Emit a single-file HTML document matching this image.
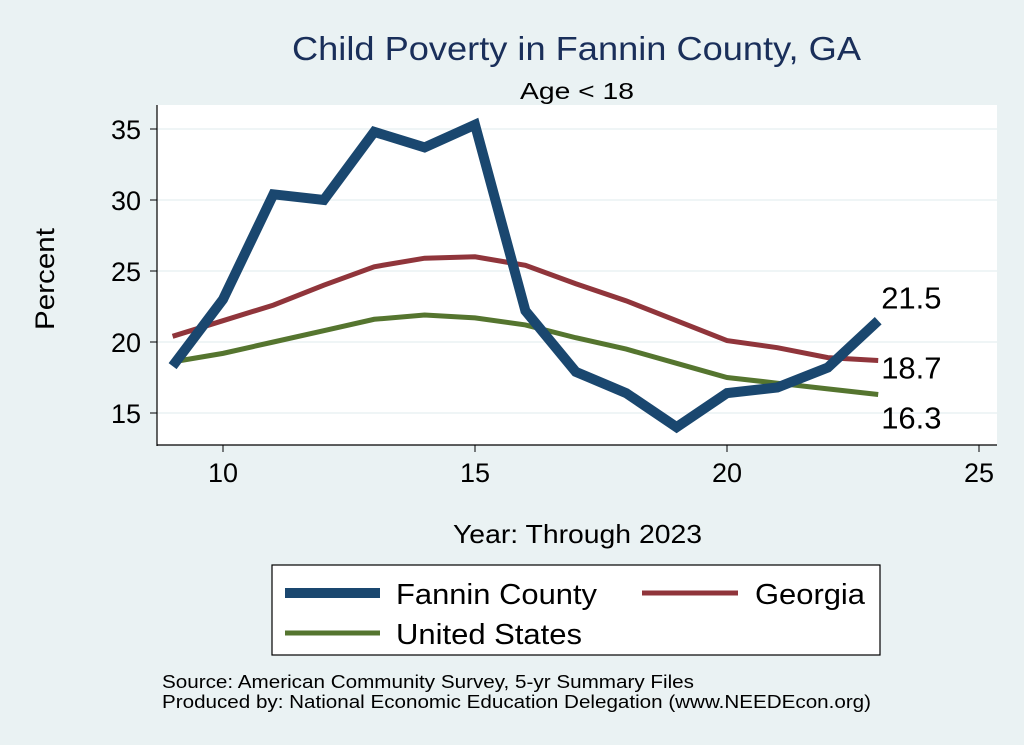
<!DOCTYPE html>
<html><head><meta charset="utf-8"><style>
body{margin:0;background:#eaf2f3;}
svg{display:block;font-family:"Liberation Sans",Arial,sans-serif;}
</style></head><body>
<svg id="chart" width="1024" height="745" viewBox="0 0 1024 745">
<rect x="0" y="0" width="1024" height="745" fill="#eaf2f3"/>
<text x="292" y="60" font-size="33" fill="#1a2f5a" textLength="569" lengthAdjust="spacingAndGlyphs">Child Poverty in Fannin County, GA</text>
<text x="520" y="99" font-size="23" fill="#000" textLength="114" lengthAdjust="spacingAndGlyphs">Age &lt; 18</text>
<rect x="157" y="105" width="840" height="340" fill="#fff"/>
<g id="grid"></g>
<line x1="157" y1="105" x2="157" y2="446" stroke="#000" stroke-width="1.2"/>
<line x1="157" y1="445" x2="997" y2="445" stroke="#000" stroke-width="1.2"/>
<g id="ticks"></g>
<g id="series"></g>
<text x="54" y="279" font-size="27" text-anchor="middle" transform="rotate(-90 54 279)" textLength="102" lengthAdjust="spacingAndGlyphs">Percent</text>
<text x="453" y="543" font-size="26" textLength="249" lengthAdjust="spacingAndGlyphs">Year: Through 2023</text>
<g>
<rect x="272" y="565" width="608" height="90" fill="#fff" stroke="#000" stroke-width="1.2"/>
<line x1="285" y1="593" x2="380" y2="593" stroke="#1a476f" stroke-width="10"/>
<text x="396" y="604" font-size="29" textLength="201" lengthAdjust="spacingAndGlyphs">Fannin County</text>
<line x1="642" y1="593" x2="738" y2="593" stroke="#90353b" stroke-width="5"/>
<text x="755" y="604" font-size="29" textLength="110" lengthAdjust="spacingAndGlyphs">Georgia</text>
<line x1="285" y1="633" x2="380" y2="633" stroke="#55752f" stroke-width="5"/>
<text x="396" y="644" font-size="29" textLength="186" lengthAdjust="spacingAndGlyphs">United States</text>
</g>
<text x="162" y="688" font-size="18" textLength="532" lengthAdjust="spacingAndGlyphs">Source: American Community Survey, 5-yr Summary Files</text>
<text x="162" y="708" font-size="18" textLength="709" lengthAdjust="spacingAndGlyphs">Produced by: National Economic Education Delegation (www.NEEDEcon.org)</text>
</svg>
<script>
const years=[9,10,11,12,13,14,15,16,17,18,19,20,21,22,23];
const fannin=[18.3,23.0,30.4,30.0,34.8,33.7,35.3,22.2,17.9,16.4,14.0,16.4,16.8,18.2,21.5];
const georgia=[20.4,21.5,22.6,24.0,25.3,25.9,26.0,25.4,24.1,22.9,21.5,20.1,19.6,18.9,18.7];
const us=[18.6,19.2,20.0,20.8,21.6,21.9,21.7,21.2,20.3,19.5,18.5,17.5,17.1,16.7,16.3];
const yTicks=[15,20,25,30,35];
const xTicks=[10,15,20,25];
const NS="http://www.w3.org/2000/svg";
function xs(v){return 223+(v-10)*50.4;}
function ys(v){return 413-(v-15)*14.2;}
function mk(t,a,p){const e=document.createElementNS(NS,t);for(const k in a)e.setAttribute(k,a[k]);p.appendChild(e);return e;}
const grid=document.getElementById('grid'),ticks=document.getElementById('ticks'),ser=document.getElementById('series');
yTicks.forEach(v=>{
 const g=mk('line',{x1:157,x2:997,y1:ys(v),y2:ys(v),stroke:'#eaf2f3','stroke-width':1.5},grid);
 
 
 const t=mk('line',{x1:150,x2:157,y1:ys(v),y2:ys(v),stroke:'#000'},ticks);
 
 
 const l=mk('text',{x:141,y:ys(v)+10,'font-size':27,'text-anchor':'end'},ticks);l.textContent=v;
 
 
});
xTicks.forEach(v=>{
 const t=mk('line',{x1:xs(v),x2:xs(v),y1:445,y2:452,stroke:'#000'},ticks);
 
 
 const l=mk('text',{x:xs(v),y:482,'font-size':27,'text-anchor':'middle'},ticks);l.textContent=v;
 
 
});
function line(vals,color,w,name){
 const p=mk('polyline',{points:years.map((y,i)=>xs(y)+','+ys(vals[i])).join(' '),fill:'none',stroke:color,'stroke-width':w,'stroke-linejoin':'miter'},ser);
 
 
}
line(georgia,'#90353b',5,'georgia-line');
line(us,'#55752f',5,'us-line');
line(fannin,'#1a476f',10,'fannin-end-line'.replace('-end',''));
const lastX=xs(years[years.length-1]);
[[fannin,-12,'fannin-end-label'],[georgia,18,'georgia-end-label'],[us,34,'us-end-label']].forEach(([v,dy,n])=>{
 const val=v[v.length-1];
 const t=mk('text',{x:lastX+3,y:ys(val)+dy,'font-size':31},ser);t.textContent=val.toFixed(1);
 
 
});
</script>
</body></html>
